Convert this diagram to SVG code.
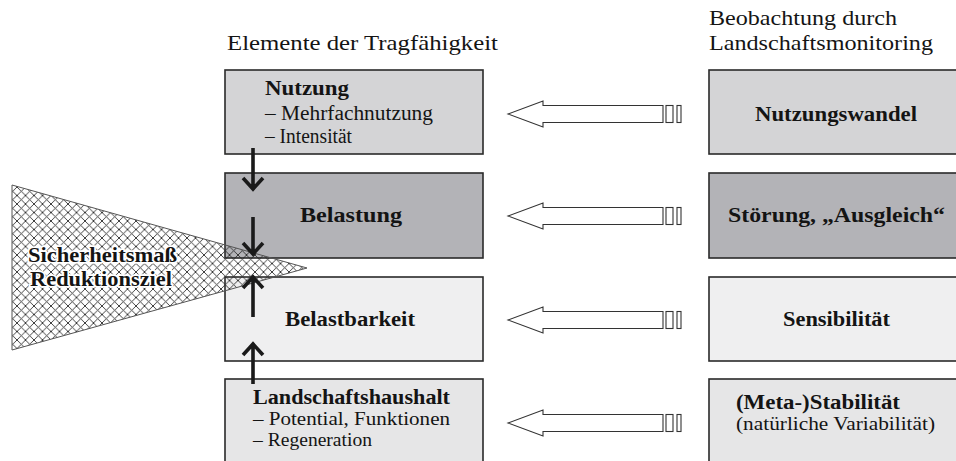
<svg xmlns="http://www.w3.org/2000/svg" width="956" height="461" viewBox="0 0 956 461">
<style>
text{font-family:"Liberation Serif","Times New Roman",serif;fill:#141414}
.b{font-weight:bold}
.t{font-size:20px}
.s{font-size:18px}
.h{font-size:21px}
.box{stroke:#2a2a2a;stroke-width:1.6}
.hollow{fill:#fff;stroke:#333;stroke-width:1.1}
.blk{stroke:#1a1a1a;stroke-width:3.6;fill:none}
.halo{font-size:22px;font-weight:bold;stroke:#fff;stroke-width:3.5;paint-order:stroke;stroke-linejoin:round}
</style>
<defs>
<pattern id="hatch" width="8.5" height="8.5" patternUnits="userSpaceOnUse">
<path d="M0,0L8.5,8.5M8.5,0L0,8.5" stroke="#2a2a2a" stroke-width="0.9"/>
</pattern>
</defs>
<rect width="956" height="461" fill="#fff"/>

<g id="headers">
<text class="h" x="227" y="50" textLength="271" lengthAdjust="spacingAndGlyphs">Elemente der Tragfähigkeit</text>
<text class="h" x="709" y="25" textLength="188" lengthAdjust="spacingAndGlyphs">Beobachtung durch</text>
<text class="h" x="709" y="50" textLength="224" lengthAdjust="spacingAndGlyphs">Landschaftsmonitoring</text>
</g>

<g id="nutzung">
<rect class="box" x="225" y="70" width="258" height="84" fill="#d4d4d6"/>
<text class="t b" x="265" y="95" textLength="84" lengthAdjust="spacingAndGlyphs">Nutzung</text>
<text class="t" x="265" y="120" textLength="168" lengthAdjust="spacingAndGlyphs">– Mehrfachnutzung</text>
<text class="t" x="265" y="143" textLength="87" lengthAdjust="spacingAndGlyphs">– Intensität</text>
</g>
<g id="belastung">
<rect class="box" x="225" y="173" width="258" height="85" fill="#b3b3b7"/>
<text class="t b" x="300" y="222" textLength="102" lengthAdjust="spacingAndGlyphs">Belastung</text>
</g>
<g id="belastbarkeit">
<rect class="box" x="225" y="277" width="258" height="84" fill="#efeff0"/>
<text class="t b" x="285" y="326" textLength="130" lengthAdjust="spacingAndGlyphs">Belastbarkeit</text>
</g>
<g id="landschaftshaushalt">
<rect class="box" x="225" y="379" width="258" height="90" fill="#e6e6e7"/>
<text class="t b" x="253" y="404" textLength="197" lengthAdjust="spacingAndGlyphs">Landschaftshaushalt</text>
<text class="s" x="253" y="425" textLength="197" lengthAdjust="spacingAndGlyphs">– Potential, Funktionen</text>
<text class="s" x="253" y="446" textLength="119" lengthAdjust="spacingAndGlyphs">– Regeneration</text>
</g>

<g id="nutzungswandel">
<rect class="box" x="709" y="70" width="255" height="84" fill="#d4d4d6"/>
<text class="t b" x="755" y="121" textLength="162" lengthAdjust="spacingAndGlyphs">Nutzungswandel</text>
</g>
<g id="stoerung">
<rect class="box" x="709" y="173" width="255" height="85" fill="#b3b3b7"/>
<text class="t b" x="728" y="222" textLength="217" lengthAdjust="spacingAndGlyphs">Störung, „Ausgleich“</text>
</g>
<g id="sensibilitaet">
<rect class="box" x="709" y="277" width="255" height="84" fill="#efeff0"/>
<text class="t b" x="783" y="326" textLength="107" lengthAdjust="spacingAndGlyphs">Sensibilität</text>
</g>
<g id="stabilitaet">
<rect class="box" x="709" y="379" width="255" height="90" fill="#e6e6e7"/>
<text class="t b" x="736" y="409" textLength="164" lengthAdjust="spacingAndGlyphs">(Meta-)Stabilität</text>
<text class="s" x="736" y="430" textLength="199" lengthAdjust="spacingAndGlyphs">(natürliche Variabilität)</text>
</g>

<g id="sicherheitsmass">
<polygon points="12,185 307,268 12,350" fill="url(#hatch)" stroke="#555" stroke-width="1"/>
<text class="halo" x="28" y="262" textLength="149" lengthAdjust="spacingAndGlyphs">Sicherheitsmaß</text>
<text class="halo" x="30" y="286" textLength="142" lengthAdjust="spacingAndGlyphs">Reduktionsziel</text>
</g>

<g id="connectors">
<g id="hollow-arrows">
<path class="hollow" d="M508,114 L543,101 L543,105.5 L663,105.5 L663,122.5 L543,122.5 L543,127 Z"/>
<rect class="hollow" x="666" y="105.5" width="7" height="17"/>
<rect class="hollow" x="677" y="105.5" width="4" height="17"/>
<path class="hollow" d="M508,216 L543,203 L543,207.5 L663,207.5 L663,224.5 L543,224.5 L543,229 Z"/>
<rect class="hollow" x="666" y="207.5" width="7" height="17"/>
<rect class="hollow" x="677" y="207.5" width="4" height="17"/>
<path class="hollow" d="M508,320 L543,307 L543,311.5 L663,311.5 L663,328.5 L543,328.5 L543,333 Z"/>
<rect class="hollow" x="666" y="311.5" width="7" height="17"/>
<rect class="hollow" x="677" y="311.5" width="4" height="17"/>
<path class="hollow" d="M508,423 L543,410 L543,414.5 L663,414.5 L663,431.5 L543,431.5 L543,436 Z"/>
<rect class="hollow" x="666" y="414.5" width="7" height="17"/>
<rect class="hollow" x="677" y="414.5" width="4" height="17"/>
</g>
<g id="black-arrows">
<path class="blk" d="M253,148V189M243,178L253,189L263,178"/>
<path class="blk" d="M253,217V254M243,243L253,254L263,243"/>
<path class="blk" d="M253,317V277M243,288L253,277L263,288"/>
<path class="blk" d="M253,384V344M243,355L253,344L263,355"/>
</g>
</g>
</svg>
